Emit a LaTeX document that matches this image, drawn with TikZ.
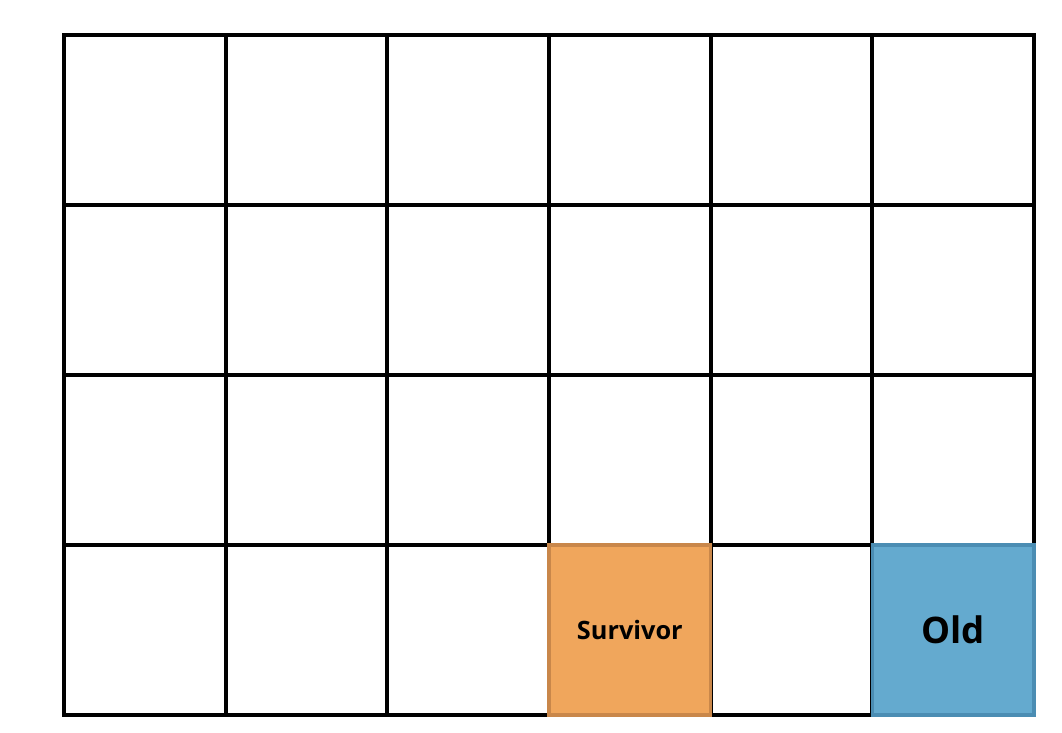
\documentclass[tikz,border=0pt]{standalone}
\usepackage{fontspec}
\setmainfont{Open Sans}
\usepackage{tikz}
\usetikzlibrary{positioning}
\definecolor{survfill}{HTML}{F0A65C}
\definecolor{survline}{HTML}{C9874A}
\definecolor{oldfill}{HTML}{64AACF}
\definecolor{oldline}{HTML}{4B8DB3}
\tikzstyle{cell}=[draw,black,line width=0.1cm,minimum width=4.042cm,minimum height=4.25cm,inner sep=0]
\tikzstyle{survivor}=[cell,draw=survline,fill=survfill,line width=0.08cm,text=black,font=\bfseries\fontsize{18}{21}\selectfont]
\tikzstyle{oldgen}=[cell,draw=oldline,fill=oldfill,line width=0.08cm,text=black,font=\bfseries\fontsize{26}{30}\selectfont]

\begin{document}
\begin{tikzpicture}[x=0.025cm,y=-0.025cm]
\useasboundingbox (0,0) rectangle (1062,732);
	% empty regions
	\foreach \c in {0,...,5}{
		\foreach \r in {0,...,3}{
			\node[cell] (r\r c\c) at ({64+161.67*(\c+0.5)},{35+170*(\r+0.5)}) {};
		}
	}
	
	\node[survivor] (surv) at (r3c3) {Survivor};
	\node[oldgen] (old) at (r3c5) {Old};
\end{tikzpicture}
\end{document}
